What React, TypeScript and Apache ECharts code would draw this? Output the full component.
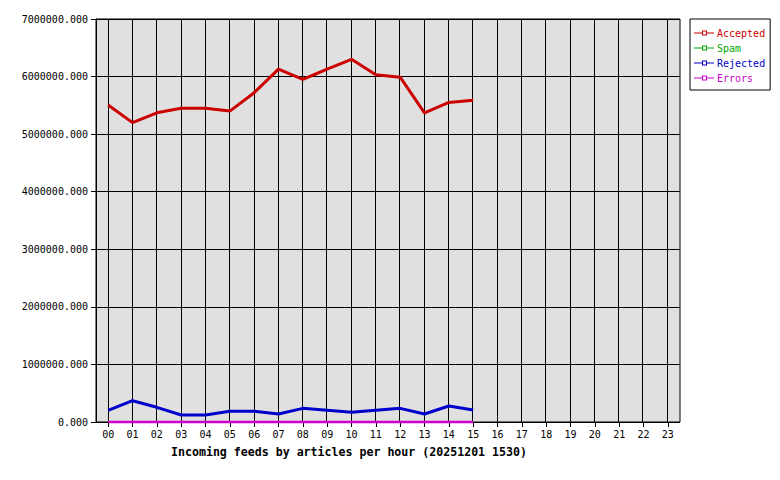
import React, { useEffect, useRef } from "react";
import * as echarts from "echarts";

const hours = ["00","01","02","03","04","05","06","07","08","09","10","11","12","13","14","15","16","17","18","19","20","21","22","23"];
const accepted = [5506000, 5200000, 5370000, 5450000, 5450000, 5400000, 5720000, 6130000, 5950000, 6130000, 6300000, 6030000, 5990000, 5370000, 5550000, 5590000];
const spam = [0, 0, 0, 0, 0, 0, 0, 0, 0, 0, 0, 0, 0, 0, 0, 0];
const rejected = [203000, 370000, 255000, 122000, 122000, 185000, 185000, 139000, 237000, 203000, 168000, 203000, 237000, 139000, 278000, 208000];
const errors = [0, 0, 0, 0, 0, 0, 0, 0, 0, 0, 0, 0, 0, 0, 0, 0];

const seriesNames = ["Accepted", "Spam", "Rejected", "Errors"];
const seriesColors = ["#cc0000", "#00aa00", "#0000cc", "#cc00cc"];
const seriesData = [accepted, spam, rejected, errors];
const seriesWidths = [3, 2, 3, 2.5];

const FONT = "DejaVu Sans Mono";
const LEGEND_ICON = "path://M0 4h8v-2h5v2h7v1h-7v2h-5v-2h-8zM9 3v3h3v-3z";

export default function App() {
  const ref = useRef<HTMLDivElement>(null);
  useEffect(() => {
    if (!ref.current) return;
    const chart = echarts.init(ref.current, null, { renderer: "svg" });
    chart.setOption({
      animation: false,
      backgroundColor: "#ffffff",
      title: {
        text: "Incoming feeds by articles per hour (20251201 1530)",
        left: 171,
        top: 446,
        padding: 0,
        textStyle: { fontFamily: FONT, fontSize: 11.6, fontWeight: "bold", color: "#000" },
      },
      legend: {
        orient: "vertical",
        left: 690,
        top: 19,
        padding: [9, 5, 7, 4],
        itemGap: 5,
        itemWidth: 20,
        itemHeight: 9,
        icon: LEGEND_ICON,
        borderColor: "#000",
        borderWidth: 1,
        borderRadius: 0,
        backgroundColor: "#fff",
        data: seriesNames.map((n, i) => ({
          name: n,
          textStyle: { color: seriesColors[i], fontFamily: FONT, fontSize: 10 },
        })),
        textStyle: { fontFamily: FONT, fontSize: 10, padding: [0, 0, 0, -2] },
      },
      grid: [
        {
          left: 96,
          top: 19,
          right: 100,
          bottom: 58,
          show: true,
          backgroundColor: "#e0e0e0",
          borderColor: "#000",
          borderWidth: 1,
        },
        {
          left: 108,
          top: 19,
          right: 113,
          bottom: 58,
          show: false,
        },
      ],
      xAxis: [
        {
          type: "category",
          gridIndex: 0,
          data: hours,
          boundaryGap: true,
          axisLine: { show: false },
          axisTick: { show: true, alignWithLabel: true, length: 5, lineStyle: { color: "#000" } },
          splitLine: { show: false },
          axisLabel: { color: "#000", fontFamily: FONT, fontSize: 10, margin: 7, interval: 0 },
        },
        {
          type: "value",
          gridIndex: 1,
          min: 0,
          max: hours.length - 1,
          interval: 1,
          axisLine: { show: false },
          axisTick: { show: false },
          axisLabel: { show: false },
          splitLine: { show: true, lineStyle: { color: "#000", width: 1 } },
        },
      ],
      yAxis: [
        {
          type: "value",
          gridIndex: 0,
          min: 0,
          max: 7000000,
          interval: 1000000,
          axisLine: { show: true, lineStyle: { color: "#000", width: 1 } },
          axisTick: { show: true, length: 5, lineStyle: { color: "#000" } },
          splitLine: { show: true, lineStyle: { color: "#000", width: 1 } },
          axisLabel: {
            color: "#000",
            fontFamily: FONT,
            fontSize: 10,
            margin: 8,
            formatter: (v: number) => v.toFixed(3),
          },
        },
        {
          type: "value",
          gridIndex: 1,
          show: false,
          min: 0,
          max: 7000000,
          splitLine: { show: false },
        },
      ],
      series: seriesNames.map((n, i) => ({
        name: n,
        type: "line",
        xAxisIndex: 0,
        yAxisIndex: 0,
        data: seriesData[i],
        symbol: "none",
        showSymbol: false,
        clip: false,
        z: 10 + i,
        color: seriesColors[i],
        lineStyle: { color: seriesColors[i], width: seriesWidths[i] },
        itemStyle: { color: seriesColors[i] },
      })),
    });
    return () => chart.dispose();
  }, []);
  return <div ref={ref} style={{ width: 780, height: 480, position: "absolute", left: 0, top: 0 }} />;
}
